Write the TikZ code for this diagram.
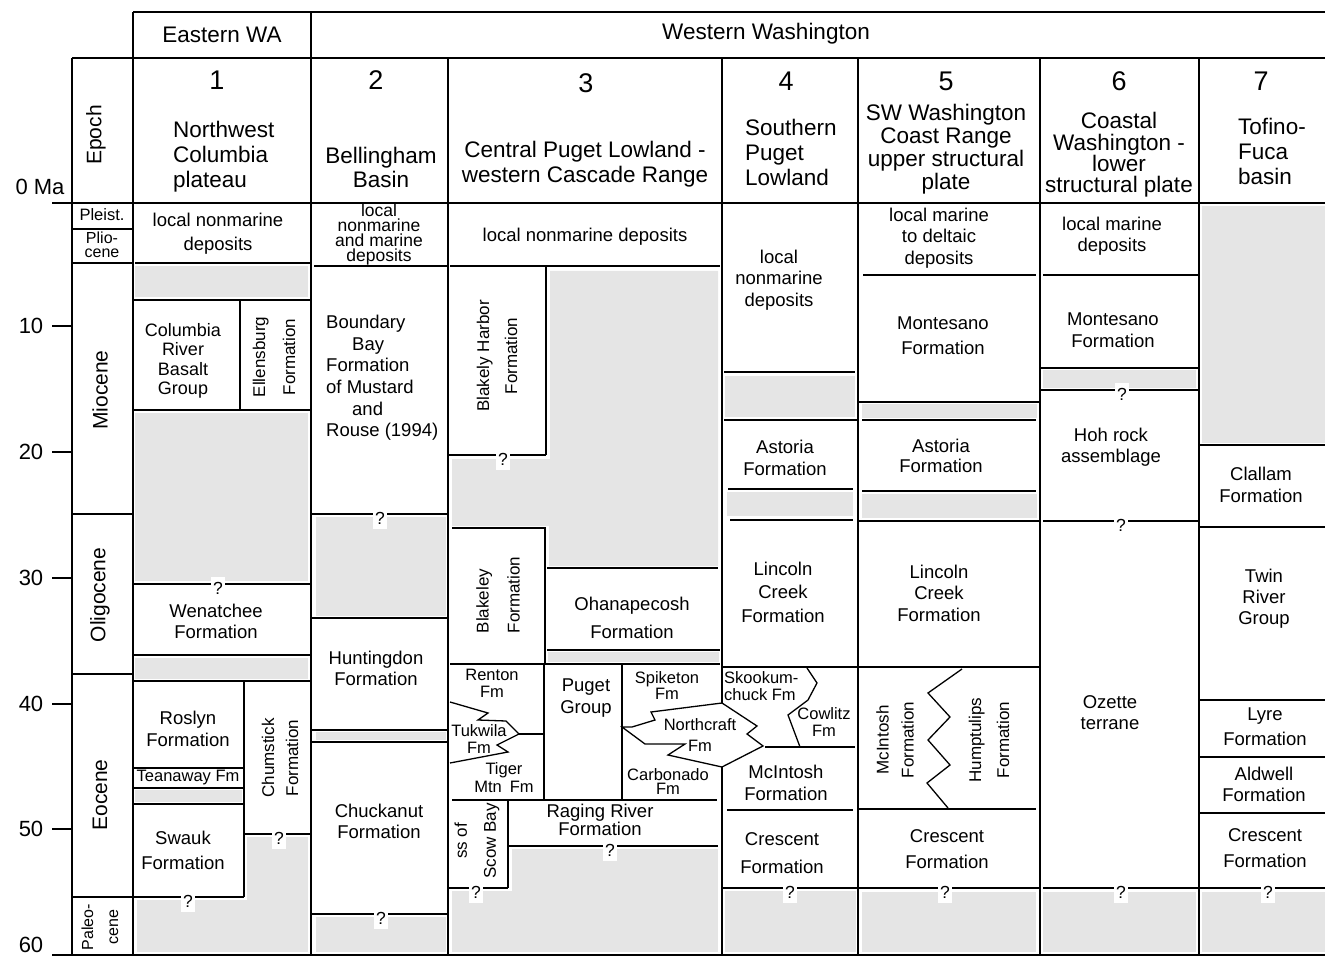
\documentclass[tikz,border=0pt]{standalone}
\usepackage{fontspec}
\setmainfont{Liberation Sans}
\definecolor{gr}{RGB}{229,229,229}
\newcommand\fsz[2]{\fontsize{#1}{#2}\selectfont}
\begin{document}
\begin{tikzpicture}[x=1pt,y=-1pt,
  tk/.style={line width=2.6pt},
  tn/.style={line width=1.3pt},
  lb/.style={align=center, inner sep=0pt, font=\fsz{18.5}{22}},
  sm/.style={align=center, inner sep=0pt, font=\fsz{16.5}{17}},
  rt/.style={align=center, inner sep=0pt, rotate=90},
  hd/.style={align=center, inner sep=0pt, font=\fsz{22.5}{25}},
  nm/.style={inner sep=0pt, font=\fsz{27}{27}},
  ax/.style={inner sep=0pt, font=\fsz{22}{22}},
  qm/.style={fill=white, inner sep=1pt, font=\fsz{17.5}{17.5}, minimum width=14pt, minimum height=22pt}]
\useasboundingbox (0,0) rectangle (1325,957);
% ---------- gray gaps ----------
\fill[gr] (135,266) rectangle (308,297);
\fill[gr] (135,413) rectangle (308,581);
\fill[gr] (135,658) rectangle (308,679);
\fill[gr] (135,790) rectangle (242,802);
\fill[gr] (247,837) rectangle (308,952);
\fill[gr] (137,900) rectangle (308,952);
\fill[gr] (316,517) rectangle (446,616);
\fill[gr] (316,732) rectangle (446,740);
\fill[gr] (316,917) rectangle (446,952);
\fill[gr] (452,459) -- (550,459) -- (550,271) -- (718,271) -- (718,566) -- (549,566) -- (549,526) -- (452,526) -- cycle;
\fill[gr] (548,652) rectangle (719,662);
\fill[gr] (452,891) rectangle (718,952);
\fill[gr] (512,849) rectangle (718,952);
\fill[gr] (725,376) rectangle (855,417);
\fill[gr] (727,492) rectangle (853,516);
\fill[gr] (725,891) rectangle (856,952);
\fill[gr] (862,404) rectangle (1037,418);
\fill[gr] (862,494) rectangle (1037,518);
\fill[gr] (862,892) rectangle (1036,952);
\fill[gr] (1043,370) rectangle (1196,388);
\fill[gr] (1043,892) rectangle (1196,952);
\fill[gr] (1202,206) rectangle (1325,443);
\fill[gr] (1202,892) rectangle (1325,952);
% ---------- frame ----------
\draw[tk] (133,12) -- (1325,12);
\draw[tk] (133,12) -- (133,955);
\draw[tk] (311,12) -- (311,955);
\draw[tk] (72,58) -- (1325,58);
\draw[tk] (72,58) -- (72,955);
\draw[tk] (72,203) -- (1325,203);
\draw[tk] (72,955) -- (1325,955);
\draw[tk] (448,58) -- (448,955);
\draw[tk] (722,58) -- (722,703);
\draw[tk] (722,767) -- (722,955);
\draw[tk] (858,58) -- (858,955);
\draw[tk] (1040,58) -- (1040,955);
\draw[tk] (1199,58) -- (1199,955);
% ticks
\draw[tn] (52,203) -- (72,203);
\draw[tn] (52,326) -- (72,326);
\draw[tn] (52,452) -- (72,452);
\draw[tn] (52,578) -- (72,578);
\draw[tn] (52,704) -- (72,704);
\draw[tn] (52,829) -- (72,829);
\draw[tn] (52,955) -- (72,955);
% epoch boundaries
\draw[tn] (72,229) -- (133,229);
\draw[tn] (72,263) -- (133,263);
\draw[tn] (72,514) -- (133,514);
\draw[tn] (72,674) -- (133,674);
% ---------- column 1 ----------
\draw[tk] (135,263) -- (311,263);
\draw[tk] (133,300) -- (311,300);
\draw[tk] (133,410) -- (311,410);
\draw[tk] (240,300) -- (240,410);
\draw[tk] (133,584) -- (311,584);
\draw[tk] (133,655) -- (311,655);
\draw[tk] (133,681) -- (244,681);
\draw[tn] (244,681) -- (311,681);
\draw[tk] (244,681) -- (244,897);
\draw[tk] (133,768) -- (244,768);
\draw[tk] (133,788) -- (244,788);
\draw[tk] (133,804) -- (244,804);
\draw[tn] (244,834) -- (311,834);
\draw[tk] (72,897) -- (244,897);
% ---------- column 2 ----------
\draw[tk] (314,266) -- (448,266);
\draw[tk] (311,514) -- (448,514);
\draw[tk] (311,618) -- (448,618);
\draw[tk] (311,730) -- (448,730);
\draw[tk] (311,742) -- (448,742);
\draw[tk] (311,914) -- (448,914);
% ---------- column 3 ----------
\draw[tk] (450,266) -- (720,266);
\draw[tk] (546,266) -- (546,455);
\draw[tk] (448,455) -- (546,455);
\draw[tk] (452,528) -- (545,528) -- (545,664);
\draw[tk] (547,568) -- (718,568);
\draw[tk] (547,650) -- (720,650);
\draw[tk] (450,664) -- (720,664);
\draw[tk] (544,664) -- (544,800);
\draw[tk] (622,664) -- (622,800);
\draw[tn] (450,702) -- (488,713) -- (478,720) -- (506,721) -- (519,734) -- (497,745) -- (508,752) -- (450,763);
\draw[tn] (519,734) -- (544,734);
\draw[tn] (622,727) -- (632,727) -- (655,720) -- (651,712) -- (722,703) -- (757,726) -- (747,734) -- (763,746) -- (722,767) -- (668,755) -- (685,744) -- (645,744) -- cycle;
\draw[tk] (452,800) -- (717,800);
\draw[tk] (508,800) -- (508,888);
\draw[tk] (448,888) -- (508,888);
\draw[tk] (508,846) -- (718,846);
% ---------- column 4 ----------
\draw[tk] (724,372) -- (855,372);
\draw[tk] (724,420) -- (858,420);
\draw[tk] (728,489) -- (853,489);
\draw[tk] (730,520) -- (853,520);
\draw[tk] (722,667) -- (858,667);
\draw[tn] (807,668) -- (817,683) -- (808,700) -- (788,715) -- (800,747);
\draw[tk] (765,747) -- (855,747);
\draw[tk] (727,810) -- (853,810);
\draw[tk] (722,888) -- (858,888);
% ---------- column 5 ----------
\draw[tk] (863,275) -- (1036,275);
\draw[tk] (858,402) -- (1040,402);
\draw[tk] (862,420) -- (1036,420);
\draw[tk] (862,491) -- (1036,491);
\draw[tk] (858,521) -- (1040,521);
\draw[tk] (858,667) -- (1040,667);
\draw[tn] (962,669) -- (928,693) -- (950,717) -- (928,740) -- (950,765) -- (927,783) -- (948,808);
\draw[tk] (858,809) -- (1036,809);
\draw[tk] (858,888) -- (1040,888);
% ---------- column 6 ----------
\draw[tk] (1043,275) -- (1199,275);
\draw[tk] (1040,368) -- (1199,368);
\draw[tk] (1040,390) -- (1199,390);
\draw[tk] (1043,521) -- (1199,521);
\draw[tk] (1043,888) -- (1199,888);
% ---------- column 7 ----------
\draw[tk] (1199,445) -- (1325,445);
\draw[tk] (1199,527) -- (1325,527);
\draw[tk] (1199,700) -- (1325,700);
\draw[tk] (1199,757) -- (1325,757);
\draw[tk] (1199,813) -- (1325,813);
\draw[tk] (1199,888) -- (1325,888);
% ---------- question marks ----------
\node[qm] (q1) at (218,588) {?};
\node[qm] (q2) at (279,838) {?};
\node[qm] (q3) at (188,901) {?};
\node[qm] (q4) at (380,518) {?};
\node[qm] (q5) at (381,918) {?};
\node[qm] (q6) at (503,459) {?};
\node[qm] (q7) at (610,850) {?};
\node[qm] (q8) at (476,892) {?};
\node[qm] (q9) at (790,892) {?};
\node[qm] (q10) at (945,892) {?};
\node[qm] (q11) at (1122,394) {?};
\node[qm] (q12) at (1121,525) {?};
\node[qm] (q13) at (1121,892) {?};
\node[qm] (q14) at (1268,892) {?};
% ---------- headers ----------
\node[hd] (hE) at (222,35) {Eastern WA};
\node[hd] (hW) at (766,34) {Western Washington};
\node[nm] (n1) at (217,80) {1};
\node[nm] (n2) at (376,80) {2};
\node[nm] (n3) at (586,83) {3};
\node[nm] (n4) at (786,81) {4};
\node[nm] (n5) at (946,81) {5};
\node[nm] (n6) at (1119,81) {6};
\node[nm] (n7) at (1261,81) {7};
\node[hd, align=left, anchor=west] (t1) at (173,157) {Northwest\\Columbia\\plateau};
\node[hd, font=\fsz{22.5}{24}] (t2) at (381,167) {Bellingham\\Basin};
\node[hd] (t3) at (585,164) {Central Puget Lowland -\\western Cascade Range};
\node[hd, align=left, anchor=west] (t4) at (745,152) {Southern\\Puget\\Lowland};
\node[hd, font=\fsz{22.5}{23}] (t5) at (946,149) {SW Washington\\Coast Range\\upper structural\\plate};
\node[hd, font=\fsz{22.5}{21.3}] (t6) at (1119,155) {Coastal\\Washington -\\lower\\structural plate};
\node[hd, align=left, anchor=west] (t7) at (1238,151) {Tofino-\\Fuca\\basin};
% ---------- axis ----------
\node[ax] (a0) at (40,187) {0 Ma};
\node[ax] (a10) at (31,326) {10};
\node[ax] (a20) at (31,452) {20};
\node[ax] (a30) at (31,578) {30};
\node[ax] (a40) at (31,704) {40};
\node[ax] (a50) at (31,829) {50};
\node[ax] (a60) at (31,945) {60};
% ---------- epochs ----------
\node[rt, font=\fsz{21}{21}] (eEp) at (96,135) {Epoch};
\node[sm, font=\fsz{16.5}{16.5}] (ePl) at (102,215) {Pleist.};
\node[sm, font=\fsz{16}{14.5}] (ePli) at (102,245) {Plio-\\cene};
\node[rt, font=\fsz{21}{21}] (eMi) at (100,390) {Miocene};
\node[rt, font=\fsz{21}{21}] (eOl) at (100,595) {Oligocene};
\node[rt, font=\fsz{21}{21}] (eEo) at (100,795) {Eocene};
\node[rt, font=\fsz{16}{25}] (ePa) at (100,927) {Paleo-\\cene};
% ---------- column 1 text ----------
\node[lb, font=\fsz{18.5}{24}] (c1a) at (218,234) {local nonmarine\\deposits};
\node[lb, font=\fsz{18}{19.5}] (c1b) at (183,361) {Columbia\\River\\Basalt\\Group};
\node[rt, font=\fsz{17}{30}] (c1c) at (274,357) {Ellensburg\\Formation};
\node[lb, font=\fsz{18.5}{21}] (c1d) at (216,621) {Wenatchee\\Formation};
\node[lb] (c1e) at (188,729) {Roslyn\\Formation};
\node[sm] (c1f) at (188,778) {Teanaway Fm};
\node[lb, font=\fsz{18.5}{25}] (c1g) at (183,850) {Swauk\\Formation};
\node[rt, font=\fsz{17}{24}] (c1h) at (280,758) {Chumstick\\Formation};
% ---------- column 2 text ----------
\node[lb, font=\fsz{17.5}{15}] (c2a) at (379,234) {local\\nonmarine\\and marine\\deposits};
\node[lb, align=left, anchor=west, font=\fsz{18.5}{21.6}] (c2b) at (326,378) {Boundary\\\hspace*{26pt}Bay\\Formation\\of Mustard\\\hspace*{26pt}and\\Rouse (1994)};
\node[lb, font=\fsz{18.5}{21}] (c2c) at (376,668) {Huntingdon\\Formation};
\node[lb, font=\fsz{18.5}{21}] (c2d) at (379,821) {Chuckanut\\Formation};
% ---------- column 3 text ----------
\node[lb] (c3a) at (585,237) {local nonmarine deposits};
\node[rt, font=\fsz{17}{28}] (c3b) at (497,356) {Blakely Harbor\\Formation};
\node[rt, align=left, font=\fsz{17}{31}] (c3c) at (498,595) {Blakeley\\Formation};
\node[lb, font=\fsz{18.5}{28}] (c3d) at (632,618) {Ohanapecosh\\Formation};
\node[sm] (c3e) at (492,683) {Renton\\Fm};
\node[sm] (c3f) at (479,739) {Tukwila\\Fm};
\node[sm, font=\fsz{16.5}{18}] (c3g) at (504,778) {Tiger\\Mtn\hspace{8pt}Fm};
\node[lb] (c3h) at (586,698) {Puget\\Group};
\node[sm, font=\fsz{16.5}{16}] (c3i) at (667,686) {Spiketon\\Fm};
\node[sm, font=\fsz{16.5}{21}] (c3j) at (700,735) {Northcraft\\Fm};
\node[sm, font=\fsz{16.5}{14}] (c3k) at (668,782) {Carbonado\\Fm};
\node[rt, font=\fsz{17}{29}] (c3l) at (477,841) {ss of\\Scow Bay};
\node[lb, font=\fsz{18.5}{18}] (c3m) at (600,820) {Raging River\\Formation};
% ---------- column 4 text ----------
\node[lb, font=\fsz{18.5}{21.5}] (c4a) at (779,280) {local\\nonmarine\\deposits};
\node[lb] (c4b) at (785,458) {Astoria\\Formation};
\node[lb, font=\fsz{18.5}{23.5}] (c4c) at (783,592) {Lincoln\\Creek\\Formation};
\node[sm, align=left, anchor=west] (c4d) at (724,686) {Skookum-\\chuck Fm};
\node[sm] (c4e) at (824,722) {Cowlitz\\Fm};
\node[lb] (c4f) at (786,783) {McIntosh\\Formation};
\node[lb, font=\fsz{18.5}{28}] (c4g) at (782,853) {Crescent\\Formation};
% ---------- column 5 text ----------
\node[lb, font=\fsz{18.5}{21.5}] (c5a) at (939,238) {local marine\\to deltaic\\deposits};
\node[lb, font=\fsz{18.5}{25}] (c5b) at (943,336) {Montesano\\Formation};
\node[lb, font=\fsz{18.5}{20}] (c5c) at (941,456) {Astoria\\Formation};
\node[lb, font=\fsz{18.5}{21.5}] (c5d) at (939,593) {Lincoln\\Creek\\Formation};
\node[rt, font=\fsz{17}{25}] (c5e) at (895,740) {McIntosh\\Formation};
\node[rt, font=\fsz{17}{28}] (c5f) at (989,740) {Humptulips\\Formation};
\node[lb, font=\fsz{18.5}{26}] (c5g) at (947,849) {Crescent\\Formation};
% ---------- column 6 text ----------
\node[lb, font=\fsz{18.5}{21}] (c6a) at (1112,236) {local marine\\deposits};
\node[lb] (c6b) at (1113,330) {Montesano\\Formation};
\node[lb, font=\fsz{18.5}{21}] (c6c) at (1111,447) {Hoh rock\\assemblage};
\node[lb, font=\fsz{18.5}{21}] (c6d) at (1110,713) {Ozette\\terrane};
% ---------- column 7 text ----------
\node[lb] (c7a) at (1261,485) {Clallam\\Formation};
\node[lb, font=\fsz{18.5}{21}] (c7b) at (1264,599) {Twin\\River\\Group};
\node[lb, font=\fsz{18.5}{25}] (c7c) at (1265,727) {Lyre\\Formation};
\node[lb, font=\fsz{18.5}{21}] (c7d) at (1264,784) {Aldwell\\Formation};
\node[lb, font=\fsz{18.5}{26}] (c7e) at (1265,848) {Crescent\\Formation};
\end{tikzpicture}
\end{document}
